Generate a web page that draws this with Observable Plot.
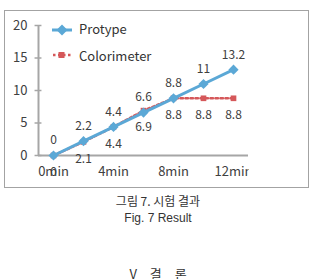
<!DOCTYPE html>
<html>
<head>
<meta charset="utf-8">
<script src="https://cdn.jsdelivr.net/npm/d3@7"></script>
<script src="https://cdn.jsdelivr.net/npm/@observablehq/plot@0.6"></script>
<style>
  html, body { margin: 0; padding: 0; background: #fff; width: 312px; height: 279px; overflow: hidden; }
  #wrap { position: relative; width: 312px; height: 279px; }
  #box { position: absolute; left: 4px; top: 10px; width: 303px; height: 176px; border: 1.5px solid #a3a3a3; }
  #chart { position: absolute; left: 0; top: 0; }
  .leg { position: absolute; font-family: "Noto Sans CJK KR", "Noto Sans", sans-serif; font-size: 13px; color: #333; line-height: 1; }
  .cap { position: absolute; left: 0; width: 316px; text-align: center; color: #333; line-height: 1; }
</style>
</head>
<body>
<div id="wrap">
  <div id="box"></div>
  <div id="chart"></div>
  <svg class="leg" style="left:50px;top:22px" width="24" height="16"><line x1="2" y1="8" x2="22" y2="8" stroke="#5ba8d6" stroke-width="3"/><path d="M12 2.5 L17.5 8 L12 13.5 L6.5 8 Z" fill="#5ba8d6"/></svg>
  <div class="leg" style="left:79px;top:22px">Protype</div>
  <svg class="leg" style="left:50px;top:47px" width="24" height="16"><line x1="3" y1="8" x2="22" y2="8" stroke="#d5585a" stroke-width="2.5" stroke-dasharray="2.5 2.5"/><rect x="8.5" y="5" width="6" height="6" fill="#d5585a"/></svg>
  <div class="leg" style="left:79px;top:49px">Colorimeter</div>
  <div class="cap" style="top:195px;font-family:'Noto Sans CJK KR',sans-serif;font-size:12px">그림 7. 시험 결과</div>
  <div class="cap" style="top:212px;font-family:'Liberation Sans',sans-serif;font-size:12px">Fig. 7 Result</div>
  <div class="cap" style="top:267px;font-family:'Noto Sans CJK KR',sans-serif;font-size:13px;word-spacing:10px">V 결 론</div>
</div>
<script>
const minutes = [0, 2, 4, 6, 8, 10, 12];
const categories = ["0min", "2min", "4min", "6min", "8min", "10min", "12min"];
const protype = [0, 2.2, 4.4, 6.6, 8.8, 11, 13.2];
const colorimeter = [0, 2.1, 4.4, 6.9, 8.8, 8.8, 8.8];
const yTicks = [0, 5, 10, 15, 20];
const xTicks = [0, 4, 8, 12];

const pData = minutes.map((m, i) => ({m, v: protype[i], label: categories[i]}));
const cData = minutes.map((m, i) => ({m, v: colorimeter[i], label: categories[i]}));

const blue = "#5ba8d6", red = "#d5585a", axisGray = "#a6a6a6";

const chart = Plot.plot({
  width: 312,
  height: 190,
  marginLeft: 38,
  marginRight: 64,
  marginTop: 25,
  marginBottom: 35,
  style: {fontFamily: "'Noto Sans CJK KR', 'Noto Sans', sans-serif", fontSize: "13px", color: "#404040", background: "transparent"},
  x: {type: "linear", domain: [-1, 13], ticks: xTicks, tickSize: 0, tickPadding: 11, tickFormat: d => categories[minutes.indexOf(d)], label: null},
  y: {domain: [0, 20], ticks: yTicks, tickSize: 0, tickPadding: 11, label: null},
  marks: [
    Plot.ruleY([0], {stroke: axisGray, strokeWidth: 2}),
    Plot.ruleX([-1], {y1: 0, y2: 20, stroke: axisGray, strokeWidth: 2}),
    Plot.ruleY(yTicks, {x1: -1.23, x2: -0.77, stroke: axisGray, strokeWidth: 1.5}),
    Plot.line(cData, {x: "m", y: "v", stroke: red, strokeWidth: 2.5, strokeDasharray: "2.5 2.5"}),
    Plot.dot(cData, {x: "m", y: "v", symbol: "square", r: 3.2, fill: red}),
    Plot.line(pData, {x: "m", y: "v", stroke: blue, strokeWidth: 3}),
    Plot.dot(pData, {x: "m", y: "v", symbol: "diamond2", r: 4.6, fill: blue}),
    Plot.text(pData, {x: "m", y: "v", text: d => String(d.v), dy: -15, fontSize: 12, fill: "#404040"}),
    Plot.text(cData, {x: "m", y: "v", text: d => String(d.v), dy: 17, fontSize: 12, fill: "#404040"})
  ]
});
document.getElementById("chart").appendChild(chart);

// clip the x tick labels at the plot's right edge, as in the reference
const ns = "http://www.w3.org/2000/svg";
const defs = document.createElementNS(ns, "defs");
const cp = document.createElementNS(ns, "clipPath");
cp.setAttribute("id", "xclip");
const r = document.createElementNS(ns, "rect");
r.setAttribute("x", 0); r.setAttribute("y", 0); r.setAttribute("width", 248); r.setAttribute("height", 190);
cp.appendChild(r); defs.appendChild(cp); chart.appendChild(defs);
chart.querySelectorAll('g[aria-label="x-axis"], g[aria-label="x-axis tick label"]').forEach(g => g.setAttribute("clip-path", "url(#xclip)"));
</script>
</body>
</html>
